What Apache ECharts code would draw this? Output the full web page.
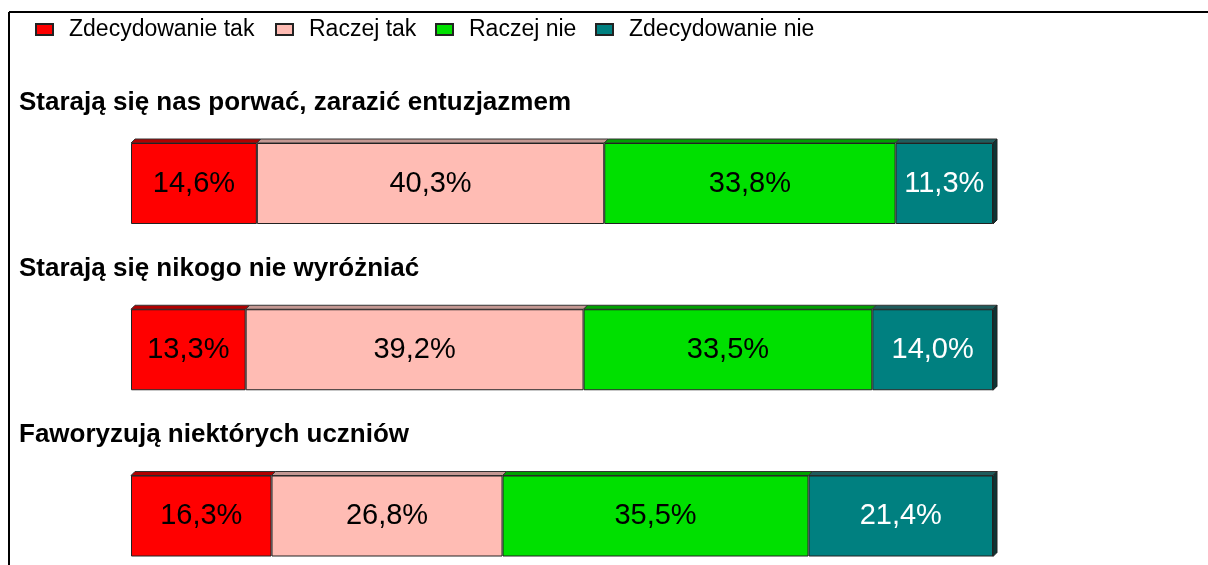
<!DOCTYPE html>
<html>
<head>
<meta charset="utf-8">
<script src="https://cdn.jsdelivr.net/npm/echarts@6/dist/echarts.min.js"></script>
<style>
  html, body { margin: 0; padding: 0; background: #fff; }
  #chart { width: 1208px; height: 565px; }
</style>
</head>
<body>
<div id="chart"></div>
<script>
// pytania (tytuły nad słupkami)
const categories = [
  'Starają się nas porwać, zarazić entuzjazmem',
  'Starają się nikogo nie wyróżniać',
  'Faworyzują niektórych uczniów'
]
const seriesNames = ['Zdecydowanie tak', 'Raczej tak', 'Raczej nie', 'Zdecydowanie nie']
const zdecydowanieTak = [14.6, 13.3, 16.3]
const raczejTak = [40.3, 39.2, 26.8]
const raczejNie = [33.8, 33.5, 35.5]
const zdecydowanieNie = [11.3, 14.0, 21.4]

const values = [zdecydowanieTak, raczejTak, raczejNie, zdecydowanieNie]
const colors = ['#ff0000', '#ffbcb4', '#00e000', '#008080']
const topColors = ['#b00000', '#c49893', '#00a000', '#1f5c5c']
const labelColors = ['#000', '#000', '#000', '#fff']
const FONT = 'Arial, "Liberation Sans", sans-serif'
const BAR_H = 81
const DEPTH = 4

const chart = echarts.init(document.getElementById('chart'))

// segmenty dla pseudo-3D (górna ściana + bok)
const faces = []
categories.forEach((c, i) => {
  let acc = 0
  values.forEach((arr, s) => {
    faces.push([acc, acc + arr[i], i, s])
    acc += arr[i]
  })
})

const fmt = p => p.value.toFixed(1).replace('.', ',') + '%'

const barSeries = seriesNames.map((name, s) => ({
  name: name,
  type: 'bar',
  stack: 'total',
  barWidth: BAR_H,
  data: values[s],
  itemStyle: { color: colors[s], borderColor: '#222', borderWidth: 1 },
  label: {
    show: true,
    position: 'inside',
    formatter: fmt,
    color: labelColors[s],
    fontFamily: FONT,
    fontSize: 29
  },
  emphasis: { disabled: true }
}))

const legendLefts = [35, 275, 435, 595]

chart.setOption({
  animation: false,
  title: categories.map((t, i) => ({
    text: t,
    left: 19,
    top: 90 + i * 166,
    padding: 0,
    textStyle: { fontFamily: FONT, fontSize: 26, fontWeight: 'bold', color: '#000' }
  })),
  legend: seriesNames.map((name, s) => ({
    data: [name],
    left: legendLefts[s],
    top: 18,
    padding: 0,
    icon: 'rect',
    itemWidth: 17,
    itemHeight: 11,
    selectedMode: false,
    textStyle: { fontFamily: FONT, fontSize: 23, color: '#000', padding: [0, 0, 0, 11] }
  })),
  // bez boundaryGap: środki słupków na krawędziach i w środku siatki
  grid: { left: 131, top: 183.5, width: 862, height: 332.5 },
  xAxis: { type: 'value', min: 0, max: 100, show: false },
  yAxis: {
    type: 'category',
    data: categories,
    inverse: true,
    boundaryGap: false,
    show: false
  },
  graphic: [
    { type: 'line', shape: { x1: 9, y1: 12, x2: 1208, y2: 12 }, style: { stroke: '#000', lineWidth: 2 } },
    { type: 'line', shape: { x1: 9, y1: 12, x2: 9, y2: 565 }, style: { stroke: '#000', lineWidth: 2 } }
  ],
  series: barSeries.concat([{
    type: 'custom',
    silent: true,
    data: faces,
    encode: { x: [0, 1], y: 2 },
    renderItem: function (params, api) {
      const s = api.value(3)
      const p0 = api.coord([api.value(0), api.value(2)])
      const p1 = api.coord([api.value(1), api.value(2)])
      const yt = p0[1] - BAR_H / 2
      const yb = p0[1] + BAR_H / 2
      const children = [{
        type: 'polygon',
        shape: { points: [[p0[0], yt], [p1[0], yt], [p1[0] + DEPTH, yt - DEPTH], [p0[0] + DEPTH, yt - DEPTH]] },
        style: { fill: topColors[s], stroke: '#333', lineWidth: 1 }
      }]
      if (s === 3) {
        children.push({
          type: 'polygon',
          shape: { points: [[p1[0], yt], [p1[0] + DEPTH, yt - DEPTH], [p1[0] + DEPTH, yb - DEPTH], [p1[0], yb]] },
          style: { fill: '#0c3535', stroke: '#222', lineWidth: 1 }
        })
      }
      return { type: 'group', children: children }
    }
  }])
})
</script>
</body>
</html>
